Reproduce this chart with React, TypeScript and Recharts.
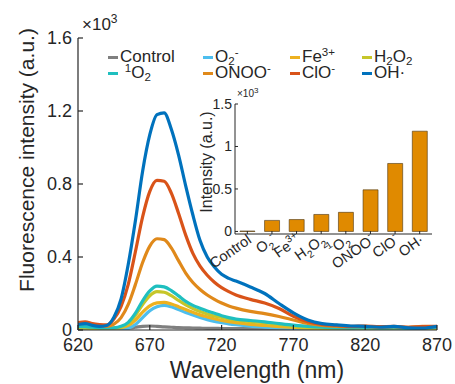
import React from 'react';
import { LineChart, Line, XAxis, YAxis, BarChart, Bar, CartesianGrid } from 'recharts';

const wavelengths = [
  620, 625, 630, 635, 640, 645, 650, 655, 660, 665, 670, 675, 680, 685, 690,
  695, 700, 705, 710, 715, 720, 725, 730, 740, 750, 760, 770, 780, 790, 800,
  810, 820, 830, 840, 850, 860, 870,
];

// intensities in units of 10^3 a.u.
const control = [0.006, 0.005, 0.004, 0.005, 0.004, 0.005, 0.007, 0.010, 0.015, 0.020, 0.022, 0.020, 0.017, 0.015, 0.013, 0.012, 0.011, 0.010, 0.009, 0.009, 0.008, 0.008, 0.008, 0.007, 0.006, 0.006, 0.005, 0.005, 0.004, 0.004, 0.004, 0.003, 0.004, 0.003, 0.003, 0.004, 0.003];
const superoxide = [0.012, 0.010, 0.008, 0.006, 0.004, 0.003, 0.004, 0.010, 0.030, 0.068, 0.105, 0.127, 0.135, 0.127, 0.112, 0.096, 0.082, 0.069, 0.057, 0.047, 0.040, 0.034, 0.029, 0.021, 0.016, 0.012, 0.009, 0.007, 0.006, 0.005, 0.005, 0.006, 0.004, 0.005, 0.004, 0.005, 0.006];
const iron = [0.015, 0.014, 0.012, 0.010, 0.010, 0.011, 0.013, 0.025, 0.055, 0.098, 0.132, 0.149, 0.151, 0.142, 0.128, 0.112, 0.097, 0.083, 0.072, 0.062, 0.053, 0.046, 0.040, 0.031, 0.025, 0.019, 0.014, 0.010, 0.008, 0.007, 0.006, 0.007, 0.006, 0.006, 0.005, 0.006, 0.007];
const peroxide = [0.010, 0.010, 0.008, 0.008, 0.009, 0.011, 0.016, 0.036, 0.080, 0.140, 0.188, 0.210, 0.207, 0.188, 0.162, 0.138, 0.118, 0.101, 0.088, 0.077, 0.069, 0.061, 0.055, 0.046, 0.040, 0.031, 0.021, 0.014, 0.010, 0.008, 0.007, 0.008, 0.007, 0.007, 0.006, 0.007, 0.008];
const singlet = [0.020, 0.018, 0.015, 0.012, 0.011, 0.012, 0.020, 0.042, 0.092, 0.160, 0.214, 0.240, 0.236, 0.216, 0.187, 0.157, 0.135, 0.119, 0.104, 0.092, 0.078, 0.068, 0.060, 0.052, 0.045, 0.035, 0.027, 0.020, 0.015, 0.012, 0.010, 0.012, 0.010, 0.011, 0.009, 0.011, 0.014];
const peroxynitrite = [0.035, 0.040, 0.030, 0.025, 0.020, 0.032, 0.068, 0.140, 0.250, 0.370, 0.460, 0.500, 0.495, 0.450, 0.380, 0.312, 0.260, 0.222, 0.192, 0.168, 0.148, 0.132, 0.120, 0.102, 0.090, 0.074, 0.055, 0.036, 0.025, 0.020, 0.018, 0.020, 0.015, 0.018, 0.015, 0.020, 0.018];
const hypochlorite = [0.040, 0.045, 0.035, 0.030, 0.028, 0.060, 0.130, 0.250, 0.430, 0.620, 0.760, 0.820, 0.815, 0.750, 0.640, 0.520, 0.420, 0.350, 0.300, 0.262, 0.232, 0.210, 0.192, 0.168, 0.148, 0.118, 0.075, 0.045, 0.030, 0.025, 0.020, 0.022, 0.018, 0.020, 0.015, 0.018, 0.020];
const hydroxyl = [0.030, 0.035, 0.025, 0.020, 0.025, 0.070, 0.170, 0.360, 0.600, 0.870, 1.070, 1.180, 1.190, 1.100, 0.960, 0.790, 0.630, 0.490, 0.400, 0.345, 0.305, 0.283, 0.268, 0.236, 0.200, 0.145, 0.094, 0.055, 0.035, 0.028, 0.022, 0.020, 0.015, 0.020, 0.012, 0.010, 0.020];

const seriesNames = ['Control', 'O_2^-', 'Fe^{3+}', 'H_2O_2', ' ^1O_2', 'ONOO^-', 'ClO^-', 'OH·'];
const seriesColors = ['#7f7f7f', '#4DBEEE', '#EDB120', '#C6C62A', '#1FBFBF', '#E0891A', '#D95319', '#0072BD'];
const seriesValues = [control, superoxide, iron, peroxide, singlet, peroxynitrite, hypochlorite, hydroxyl];

const xTicks = [620, 670, 720, 770, 820, 870];
const yTicks = [0, 0.4, 0.8, 1.2, 1.6];

const insetLabels = ['Control', 'O_2^-', 'Fe^{3+}', 'H_2O_2', '^1O_2', 'ONOO^-', 'ClO^-', 'OH·'];
const insetValues = [0.005, 0.13, 0.14, 0.2, 0.225, 0.49, 0.8, 1.18];
const insetTicks = [0, 0.5, 1, 1.5];

const rows = wavelengths.map((wl, i) => {
  const r: Record<string, number> = { wl };
  seriesValues.forEach((s, k) => { r['s' + k] = s[i]; });
  return r;
});
const insetRows = insetLabels.map((name, i) => ({ name, value: insetValues[i] }));

const FONT = '"Liberation Sans", Arial, Helvetica, sans-serif';
const INK = '#262626';

type Part = { t: string; k: 'n' | 'sub' | 'sup' };
function parseRich(s: string): Part[] {
  const parts: Part[] = [];
  let i = 0;
  while (i < s.length) {
    const c = s[i];
    if (c === '_' || c === '^') {
      let t: string;
      if (s[i + 1] === '{') {
        const j = s.indexOf('}', i);
        t = s.slice(i + 2, j);
        i = j + 1;
      } else {
        t = s[i + 1];
        i += 2;
      }
      parts.push({ t, k: c === '_' ? 'sub' : 'sup' });
    } else {
      const last = parts[parts.length - 1];
      if (last && last.k === 'n') last.t += c;
      else parts.push({ t: c, k: 'n' });
      i++;
    }
  }
  return parts;
}

function RichHtml({ s }: { s: string }) {
  return (
    <>
      {parseRich(s).map((p, i) =>
        p.k === 'n' ? (
          <span key={i} style={{ whiteSpace: 'pre' }}>{p.t}</span>
        ) : (
          <span key={i} style={{ fontSize: '0.68em', lineHeight: 0, position: 'relative', top: p.k === 'sub' ? '0.3em' : '-0.55em' }}>{p.t}</span>
        )
      )}
    </>
  );
}

function richTspans(s: string, size: number) {
  let cur = 0;
  return parseRich(s).map((p, i) => {
    const target = p.k === 'sub' ? size * 0.3 : p.k === 'sup' ? -size * 0.45 : 0;
    const dy = target - cur;
    cur = target;
    return (
      <tspan key={i} dy={dy} fontSize={p.k === 'n' ? size : size * 0.7}>{p.t}</tspan>
    );
  });
}

const InsetTick = (props: any) => {
  const { x, y, payload } = props;
  return (
    <g transform={`translate(${x + 5},${y + 9})`}>
      <text transform="rotate(-35)" textAnchor="end" fill={INK} fontFamily={FONT}>
        {richTspans(payload.value, 14.5)}
      </text>
    </g>
  );
};

const legendCols = [108, 203, 290, 362];
const legendRows = [57, 73];

export default function App() {
  return (
    <div style={{ position: 'absolute', left: 0, top: 0, width: 455, height: 384, background: '#fff', fontFamily: FONT, color: INK, overflow: 'hidden' }}>
      <LineChart width={455} height={384} data={rows} margin={{ top: 38, right: 18, bottom: 0, left: 0 }}>
        <XAxis dataKey="wl" type="number" domain={[620, 870]} ticks={xTicks} allowDataOverflow height={54}
          tickSize={-5} tickMargin={13} stroke={INK} strokeWidth={1.2}
          tick={{ fill: INK, fontSize: 18, fontFamily: FONT }} />
        <XAxis xAxisId="top" orientation="top" dataKey="wl" type="number" domain={[620, 870]} ticks={xTicks}
          allowDataOverflow height={0} tickSize={-5} tick={false} stroke={INK} strokeWidth={1.2} />
        <YAxis type="number" domain={[0, 1.6]} ticks={yTicks} allowDataOverflow width={78}
          tickSize={-5} tickMargin={11} stroke={INK} strokeWidth={1.2}
          tickFormatter={(v: number) => String(v)}
          tick={{ fill: INK, fontSize: 18, fontFamily: FONT }} />
        <YAxis yAxisId="right" orientation="right" type="number" domain={[0, 1.6]} ticks={yTicks}
          allowDataOverflow width={0} tickSize={-5} tick={false} stroke={INK} strokeWidth={1.2} />
        {seriesValues.map((_, k) => (
          <Line key={k} dataKey={'s' + k} type="monotone" stroke={seriesColors[k]} strokeWidth={3.2}
            dot={false} isAnimationActive={false} />
        ))}
      </LineChart>

      {/* exponent labels */}
      <div style={{ position: 'absolute', left: 82, top: 16, fontSize: 17, lineHeight: '17px', whiteSpace: 'nowrap' }}>
        ×10<span style={{ fontSize: 12, position: 'relative', top: -7 }}>3</span>
      </div>
      <div style={{ position: 'absolute', left: 237, top: 89, fontSize: 10, lineHeight: '10px', whiteSpace: 'nowrap' }}>
        ×10<span style={{ fontSize: 8, position: 'relative', top: -4 }}>3</span>
      </div>

      {/* axis titles */}
      <div style={{ position: 'absolute', left: 27, top: 160, fontSize: 21, whiteSpace: 'nowrap', transform: 'translate(-50%,-50%) rotate(-90deg)' }}>
        Fluorescence intensity (a.u.)
      </div>
      <div style={{ position: 'absolute', left: 257, top: 370, fontSize: 23, whiteSpace: 'nowrap', transform: 'translate(-50%,-50%)' }}>
        Wavelength (nm)
      </div>

      {/* legend */}
      {seriesNames.map((name, i) => (
        <div key={i} style={{ position: 'absolute', left: legendCols[i % 4], top: legendRows[Math.floor(i / 4)] - 8, height: 16, display: 'flex', alignItems: 'center', whiteSpace: 'nowrap', fontSize: 17, lineHeight: '16px' }}>
          <span style={{ display: 'inline-block', width: 10, height: 3, background: seriesColors[i], marginRight: 2 }} />
          <span><RichHtml s={name} /></span>
        </div>
      ))}

      {/* inset */}
      <div style={{ position: 'absolute', left: 190, top: 85 }}>
        <BarChart width={250} height={205} data={insetRows} margin={{ top: 19, right: 8, bottom: 0, left: 0 }} barCategoryGap="20%">
          <CartesianGrid horizontal={false} vertical={false} fill="#fff" />
          <XAxis dataKey="name" height={56} interval={0} tickSize={-3} stroke={INK} tick={<InsetTick />} />
          <XAxis xAxisId="top" orientation="top" dataKey="name" height={0} tick={false} tickLine={false} stroke={INK} />
          <YAxis type="number" domain={[-0.03, 1.5]} ticks={insetTicks} allowDataOverflow width={45}
            tickSize={-3} tickMargin={6} stroke={INK}
            tickFormatter={(v: number) => String(v)}
            tick={{ fill: INK, fontSize: 14, fontFamily: FONT }} />
          <YAxis yAxisId="right" orientation="right" type="number" domain={[-0.03, 1.5]} ticks={insetTicks}
            allowDataOverflow width={0} tickSize={-3} tick={false} stroke={INK} />
          <Bar dataKey="value" fill="#E08A00" stroke="#4a3410" strokeWidth={0.6} isAnimationActive={false} />
        </BarChart>
      </div>
      <div style={{ position: 'absolute', left: 207, top: 162, fontSize: 16, whiteSpace: 'nowrap', transform: 'translate(-50%,-50%) rotate(-90deg)' }}>
        Intensity (a.u.)
      </div>
    </div>
  );
}
